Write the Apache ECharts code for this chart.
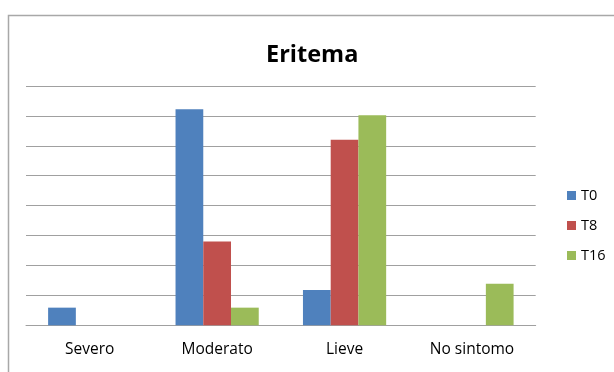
<!DOCTYPE html>
<html>
<head>
<meta charset="utf-8">
<script src="https://cdn.jsdelivr.net/npm/echarts@6/dist/echarts.min.js"></script>
<style>html,body{margin:0;padding:0;background:#fff;}#c{width:614px;height:372px;}</style>
</head>
<body>
<div id="c"></div>
<script>
const categories = ['Severo', 'Moderato', 'Lieve', 'No sintomo'];
const seriesNames = ['T0', 'T8', 'T16'];
const t0 = [5.9, 72.2, 11.8, 0];
const t8 = [0, 28.0, 62.0, 0];
const t16 = [0, 5.9, 70.2, 13.9];
const colors = ['#4F81BD', '#C0504D', '#9BBB59'];
const FONT = '"Open Sans", Lato, sans-serif';

const chart = echarts.init(document.getElementById('c'), null, {renderer: 'canvas'});
const values = [t0, t8, t16];
chart.setOption({
  animation: false,
  backgroundColor: '#ffffff',
  color: colors,
  title: {
    text: 'Eritema',
    left: 261, top: 38,
    textStyle: {fontFamily: FONT, fontWeight: 'bold', fontSize: 23.5, color: '#000'}
  },
  legend: {
    orient: 'vertical',
    left: 562, top: 183,
    itemWidth: 9, itemHeight: 9, itemGap: 15,
    icon: 'rect',
    textStyle: {fontFamily: FONT, fontSize: 14.5, color: '#000'},
    data: seriesNames
  },
  grid: {left: 26, right: 78.3, top: 86, bottom: 46.7, containLabel: false},
  xAxis: {
    type: 'category',
    data: categories,
    axisLine: {lineStyle: {color: '#a0a0a0', width: 1}},
    axisTick: {show: false},
    axisLabel: {fontFamily: FONT, fontSize: 15.5, color: '#000', margin: 16}
  },
  yAxis: {
    type: 'value',
    min: 0, max: 80, interval: 10,
    axisLine: {show: false},
    axisTick: {show: false},
    axisLabel: {show: false},
    splitLine: {lineStyle: {color: '#a0a0a0', width: 1}}
  },
  graphic: [{
    type: 'rect', silent: true, z: 100,
    shape: {x: 8.5, y: 15.5, width: 700, height: 500},
    style: {fill: 'none', stroke: '#a8a8a8', lineWidth: 1.5}
  }],
  series: seriesNames.map((n, i) => ({
    name: n, type: 'bar', data: values[i],
    barGap: '0%', barCategoryGap: '34.7%',
    itemStyle: {color: colors[i]}
  }))
});
</script>
</body>
</html>
